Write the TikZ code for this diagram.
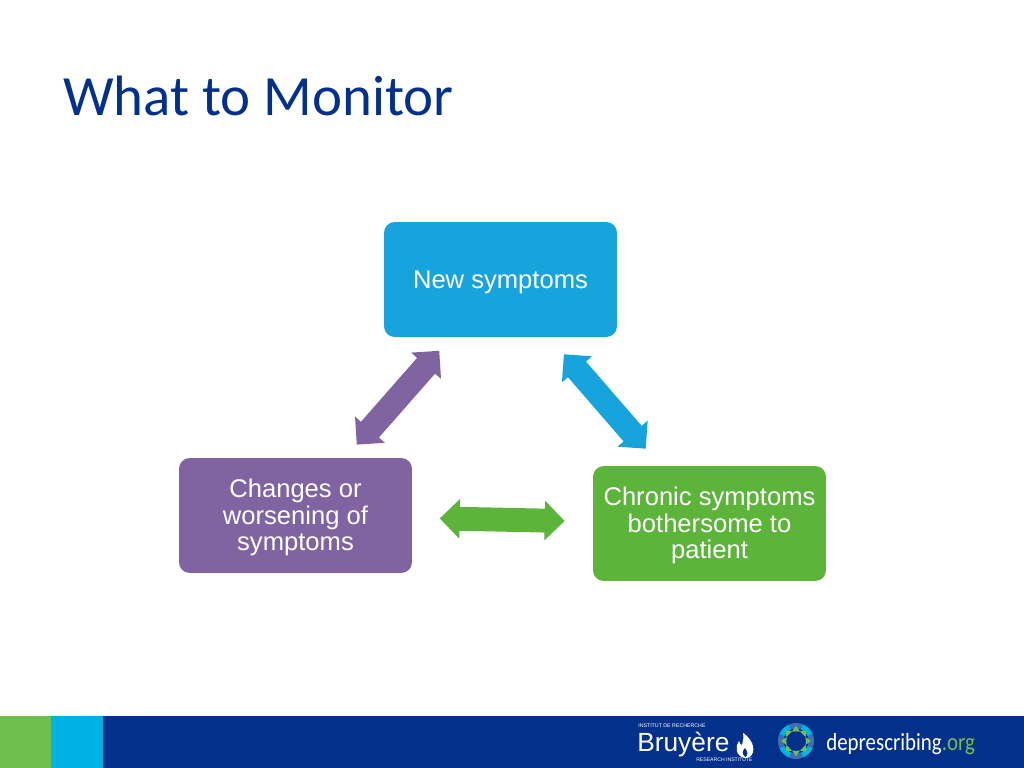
\documentclass[tikz,border=0pt]{standalone}
\usepackage{fontspec}
\usepackage{tikz}
\usetikzlibrary{shapes.arrows}
\setmainfont{Liberation Sans}
\newfontfamily\titlefont{Carlito}
\newfontfamily\logofont[FakeStretch=0.85]{Carlito}
\definecolor{sky}{HTML}{17A4DD}
\definecolor{grape}{HTML}{8064A2}
\definecolor{leaf}{HTML}{5DB43B}
\definecolor{navy}{HTML}{03308B}
\definecolor{bandleaf}{HTML}{6DBE4B}
\definecolor{bandsky}{HTML}{00B2E3}
\definecolor{orgleaf}{HTML}{6CBE58}
\definecolor{ringblue}{HTML}{3F6DB0}
\tikzset{
	card/.style={shape=rectangle, rounded corners=7.5pt, minimum width=163.8pt, minimum height=80.8pt, text=white, align=center, text depth=1pt, font=\fontsize{18}{18.9}\selectfont},
	dblarrow/.style={shape=double arrow, minimum height=87.8pt, double arrow head extend=5.6pt, inner xsep=0pt, inner ysep=8.2pt, outer sep=0pt},
	band/.style={shape=rectangle, anchor=north west, minimum height=36.6pt, inner sep=0pt, outer sep=0pt},
	logotext/.style={text=white, inner sep=0pt, anchor=base west}
}
\begin{document}
\begin{tikzpicture}[x=0.703125pt, y=-0.703125pt]
	\useasboundingbox (0,0) rectangle (1024,768);

	\node[anchor=base west, inner sep=0pt, text=navy, font=\titlefont\fontsize{40}{40}\selectfont] (title) at (63,116) {What to Monitor};

	\node[card, fill=sky, text depth=0pt] (new) at (500.5,279.5) {New symptoms};
	\node[card, fill=grape] (changes) at (295.5,515.5) {Changes or\\worsening of\\symptoms};
	\node[card, fill=leaf] (chronic) at (709.5,523.5) {Chronic symptoms\\bothersome to\\patient};

	\node[dblarrow, fill=grape, rotate=48.7] (purplearrow) at (398,397.7) {};
	\node[dblarrow, fill=sky, rotate=-49.1] (bluearrow) at (604.8,401.5) {};
	\node[dblarrow, fill=leaf, rotate=-1.2] (greenarrow) at (502.2,519.7) {};

	% footer
	\node[band, fill=navy, minimum width=720pt] (footer) at (0,716) {};
	\node[band, fill=bandleaf, minimum width=36pt] (greenband) at (0,716) {};
	\node[band, fill=bandsky, minimum width=36.4pt] (blueband) at (51,716) {};

	% logos
	\node[logotext, font=\fontsize{3.7}{3.7}\selectfont] (institut) at (638,727) {INSTITUT DE RECHERCHE};
	\node[logotext, font=\fontsize{18.5}{18.5}\selectfont] (bruyere) at (637,751) {Bruyère};
	\node[logotext, font=\fontsize{3.6}{3.6}\selectfont] (research) at (696,761) {RESEARCH INSTITUTE};
	\fill[white] (745,758) .. controls (735,756) and (735,746) .. (739,741) .. controls (740,744) and (741,745) .. (742,745) .. controls (743,741) and (744,737) .. (743,733) .. controls (748,736) and (755,744) .. (753,752) .. controls (752,756) and (749,758) .. (745,758) -- cycle;
	\fill[navy] (745.5,757) .. controls (742,755) and (742,751) .. (745,748) .. controls (747,751) and (749,754) .. (745.5,757) -- cycle;
	\foreach \a in {0,90,180,270} {
		\fill[ringblue] (796,741) -- ++(\a-22.5:18) arc (\a-22.5:\a+22.5:18) -- cycle;
		\fill[bandsky] (796,741) -- ++(\a+22.5:18) arc (\a+22.5:\a+67.5:18) -- cycle;
	}
	\fill[navy] (796,741) circle (12.5);
	\foreach \a in {0,45,...,315} {
		\fill[orgleaf, shift={(796,741)}, rotate=\a] (9.5,4) -- (9.5,-4) -- (15,0) -- cycle;
	}
	\fill[navy] (796,741) circle (9.5);
	\node[logotext, font=\logofont\fontsize{17.3}{17.3}\selectfont] (deprescribing) at (826,750) {deprescribing\textcolor{orgleaf}{.org}};
\end{tikzpicture}
\end{document}
